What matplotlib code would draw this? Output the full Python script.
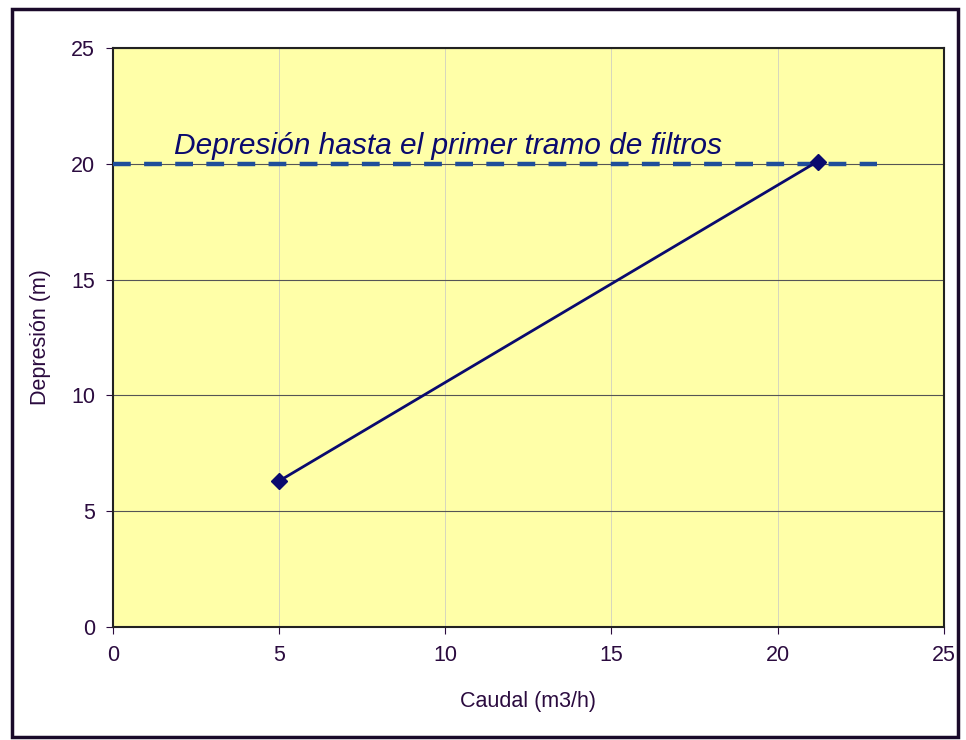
import matplotlib
matplotlib.use('Agg')
from matplotlib import pyplot as plt
from matplotlib.patches import Rectangle

caudal = [5.0, 21.2]
depresion = [6.3, 20.1]
limite_x = [0, 23]
limite_y = [20, 20]
ticks = [0, 5, 10, 15, 20, 25]
texto = 'Depresión hasta el primer tramo de filtros'

plt.rcParams['font.family'] = ['Liberation Sans', 'DejaVu Sans']
txt_color = '#2b0b3f'

fig = plt.figure(figsize=(9.66, 7.4), dpi=100)
fig.patches.append(Rectangle((0.012, 0.004), 0.98, 0.984, transform=fig.transFigure,
                             fill=False, edgecolor='#1a0a2a', linewidth=2.5))
ax = fig.add_axes([0.117, 0.153, 0.86, 0.782])
ax.set_facecolor('#ffffa8')

ax.plot(limite_x, limite_y, '--', color='#1f4e9a', linewidth=3.2, dashes=(4, 3), zorder=3)
ax.plot(caudal, depresion, '-', color='#0a0a6e', linewidth=2, marker='D', markersize=8, zorder=4)
ax.text(1.85, 20.15, texto, style='italic', fontsize=21.5, color='#0a0a6e', va='bottom')

ax.set_xlim(0, 25)
ax.set_ylim(0, 25)
ax.set_xticks(ticks)
ax.set_yticks(ticks)
ax.grid(axis='y', color='#555555', linewidth=0.8)
ax.grid(axis='x', color='#d0d0c0', linewidth=0.6)
ax.tick_params(labelsize=15.5, colors=txt_color, length=5, pad=8)
for s in ax.spines.values():
    s.set_color('#222222')
    s.set_linewidth(1.5)

ax.set_xlabel('Caudal (m3/h)', fontsize=15.5, color=txt_color, labelpad=18)
ax.set_ylabel('Depresión (m)', fontsize=15.5, color=txt_color, labelpad=14)

fig.savefig('out.png')
